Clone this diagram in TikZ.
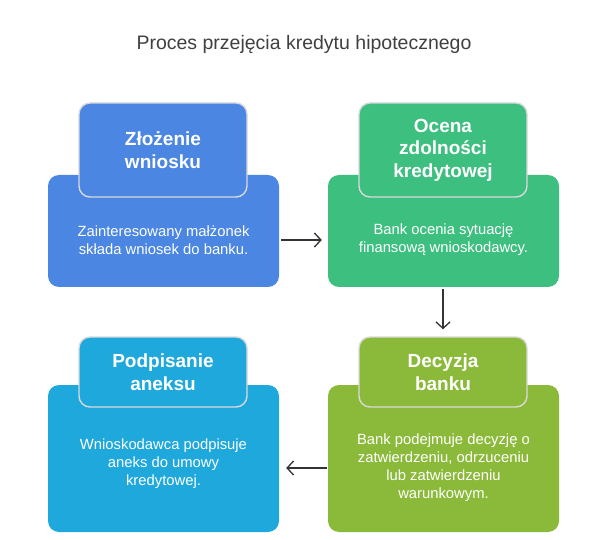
\documentclass[tikz,border=0pt]{standalone}
\usepackage{fontspec}
\setmainfont{Liberation Sans}
\usetikzlibrary{arrows.meta}
\definecolor{cblue}{HTML}{4A86E2}
\definecolor{cgreen}{HTML}{3DBF7F}
\definecolor{ccyan}{HTML}{1FA8DC}
\definecolor{clime}{HTML}{8BBA3A}
\definecolor{ctitle}{HTML}{404040}
\definecolor{carrow}{HTML}{333333}
\tikzset{
  bigbox/.style={rectangle, rounded corners=11pt, minimum width=231pt, inner sep=0pt},
  tabbox/.style={rectangle, rounded corners=11pt, minimum width=168pt, inner sep=0pt, draw=white!85!black, line width=1.4pt},
  tabtext/.style={text=white, font=\fontsize{19}{22.5}\selectfont\bfseries, align=center},
  bodytext/.style={text=white, font=\fontsize{14.8}{18}\selectfont, align=center},
  arr/.style={draw=carrow, line width=1.3pt, -{Straight Barb[length=6.5pt,width=14pt]}}
}
\begin{document}
\begin{tikzpicture}[x=1pt,y=-1pt]
\useasboundingbox[fill=white] (0,0) rectangle (608,540);
\node[text=ctitle, font=\fontsize{19.5}{22}\selectfont] (title) at (304,44) {Proces przejęcia kredytu hipotecznego};
% box 1
\node[bigbox, fill=cblue, minimum height=112pt] (b1) at (163.5,231) {};
\node[tabbox, fill=cblue, minimum height=94pt] (h1) at (163,150) {};
\node[tabtext] (h1t) at (163,150) {Złożenie\\wniosku};
\node[bodytext] (t1) at (163.5,240) {Zainteresowany małżonek\\składa wniosek do banku.};
% box 2
\node[bigbox, fill=cgreen, minimum height=112pt] (b2) at (443.5,231) {};
\node[tabbox, fill=cgreen, minimum height=94pt] (h2) at (443,150) {};
\node[tabtext] (h2t) at (443,150) {Ocena\\zdolności\\kredytowej};
\node[bodytext] (t2) at (443.5,240) {Bank ocenia sytuację\\finansową wnioskodawcy.};
% box 3
\node[bigbox, fill=ccyan, minimum height=147pt] (b3) at (163.5,458.5) {};
\node[tabbox, fill=ccyan, minimum height=70pt] (h3) at (163,372) {};
\node[tabtext] (h3t) at (163,372) {Podpisanie\\aneksu};
\node[bodytext] (t3) at (163.5,464) {Wnioskodawca podpisuje\\aneks do umowy\\kredytowej.};
% box 4
\node[bigbox, fill=clime, minimum height=147pt] (b4) at (443.5,458.5) {};
\node[tabbox, fill=clime, minimum height=70pt] (h4) at (443,372) {};
\node[tabtext] (h4t) at (443,372) {Decyzja\\banku};
\node[bodytext] (t4) at (443.5,468) {Bank podejmuje decyzję o\\zatwierdzeniu, odrzuceniu\\lub zatwierdzeniu\\warunkowym.};
% arrows
\draw[arr] ([xshift=2pt]b1.east |- t1.center) -- ([xshift=-6pt]b2.west |- t1.center);
\draw[arr] ([yshift=-2pt]h4.north |- b2.south) -- ([yshift=7pt]h4.north);
\draw[arr] ([xshift=-1pt]b4.west |- t4.center) -- ([xshift=7pt]b3.east |- t4.center);
\end{tikzpicture}
\end{document}
